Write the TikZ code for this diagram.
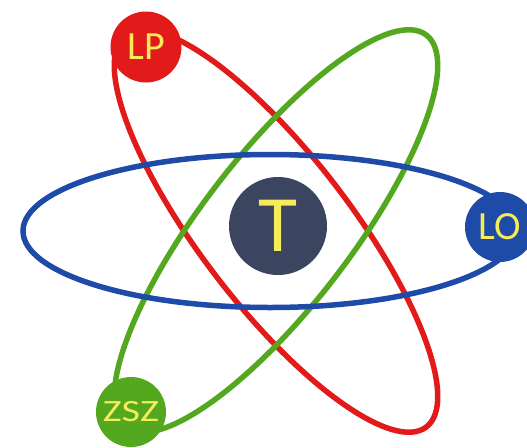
\documentclass[tikz,border=0pt]{standalone}
\usepackage{fontspec}
\setmainfont{Carlito}
\definecolor{orbred}{RGB}{226,26,26}
\definecolor{orbgreen}{RGB}{84,168,32}
\definecolor{orbblue}{RGB}{30,74,168}
\definecolor{coredark}{RGB}{59,69,96}
\definecolor{txtyellow}{RGB}{246,236,90}
\begin{document}
\begin{tikzpicture}[x=1pt,y=-1pt,
  orbit/.style={line width=5.5pt},
  ball/.style={circle,inner sep=0pt,text=txtyellow},
]
\useasboundingbox (0,0) rectangle (527,447);
\coordinate (C) at (276,231);
\coordinate (B) at (270,231);
\draw[orbit,orbred,rotate around={-52.5:(C)}] (C) ellipse (247 and 75);
\draw[orbit,orbgreen,rotate around={52.5:(C)}] (C) ellipse (247 and 75);
\draw[orbit,orbblue] (B) ellipse (247 and 76.5);
\node[ball,fill=coredark,minimum size=98pt,font=\fontsize{80}{80}\selectfont] (T) at (278,226) {T};
\node[ball,fill=orbred,minimum size=71pt,font=\fontsize{40}{40}\selectfont] (LP) at (146,47) {LP};
\node[ball,fill=orbblue,minimum size=70pt,font=\fontsize{40}{40}\selectfont] (LO) at (500,227) {LO};
\node[ball,fill=orbgreen,minimum size=70pt,font=\fontsize{31}{31}\selectfont] (ZSZ) at (131,412) {\scalebox{1.3}[1]{ZSZ}};
\end{tikzpicture}
\end{document}
